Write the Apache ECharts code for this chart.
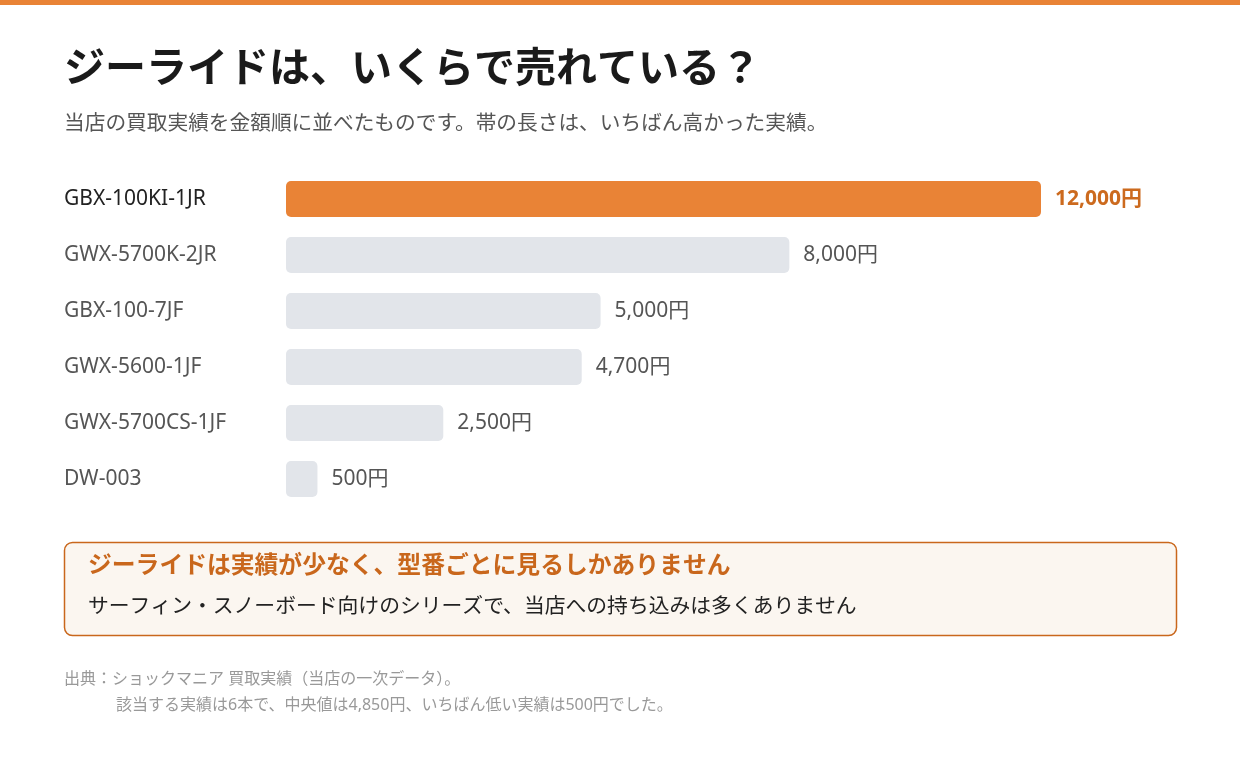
<!DOCTYPE html>
<html><head><meta charset="utf-8">
<script src="https://cdn.jsdelivr.net/npm/echarts@6/dist/echarts.min.js"></script>
<style>html,body{margin:0;padding:0;background:#fff}#c{width:1240px;height:757px}</style>
</head><body><div id="c"></div>
<script>
const categories = ["GBX-100KI-1JR","GWX-5700K-2JR","GBX-100-7JF","GWX-5600-1JF","GWX-5700CS-1JF","DW-003"];
const values = [12000,8000,5000,4700,2500,500];
const F = '"Noto Sans CJK JP",sans-serif';
const FL = '"Noto Sans","Noto Sans CJK JP",sans-serif';
const chart = echarts.init(document.getElementById('c'));
chart.setOption({
  animation:false,
  grid:{left:286,top:171,width:755,height:336},
  xAxis:{type:'value',min:0,max:12000,show:false},
  yAxis:{type:'category',data:categories,inverse:true,axisLine:{show:false},axisTick:{show:false},
    axisLabel:{align:'left',margin:222,fontFamily:FL,fontSize:21,
      formatter:(v,i)=>i===0?'{a|'+v+'}':'{b|'+v+'}',
      rich:{a:{color:'#222',fontSize:21,fontFamily:FL},b:{color:'#555',fontSize:21,fontFamily:FL}}}},
  series:[{type:'bar',barWidth:36,
    data:values.map((v,i)=>({value:v,itemStyle:{color:i===0?'#e98336':'#e2e5ea',borderRadius:5},
      label:{color:i===0?'#cc6a1e':'#555',fontWeight:i===0?'bold':'normal'}})),
    label:{show:true,position:'right',distance:14,fontFamily:FL,fontSize:21,
      formatter:p=>p.value.toLocaleString('en-US')+'円'}}],
  graphic:[
    {type:'rect',shape:{x:0,y:0,width:1240,height:5},style:{fill:'#e98336'}},
    {type:'text',left:64,top:46,style:{text:'ジーライドは、いくらで売れている？',font:'bold 41px '+F,fill:'#1a1a1a'}},
    {type:'text',left:64,top:112,style:{text:'当店の買取実績を金額順に並べたものです。帯の長さは、いちばん高かった実績。',font:'20.7px '+F,fill:'#555'}},
    {type:'rect',shape:{x:64.5,y:542.5,width:1112,height:93,r:8},style:{fill:'#fbf6f0',stroke:'#c9671c',lineWidth:1.5}},
    {type:'text',left:88,top:552,style:{text:'ジーライドは実績が少なく、型番ごとに見るしかありません',font:'bold 23.8px '+F,fill:'#c9671c'}},
    {type:'text',left:88,top:595,style:{text:'サーフィン・スノーボード向けのシリーズで、当店への持ち込みは多くありません',font:'20.8px '+F,fill:'#222'}},
    {type:'text',left:64,top:671,style:{text:'出典：ショックマニア 買取実績（当店の一次データ）。',font:'16px '+FL,fill:'#999'}},
    {type:'text',left:116,top:697,style:{text:'該当する実績は6本で、中央値は4,850円、いちばん低い実績は500円でした。',font:'16px '+FL,fill:'#999'}}
  ]
});
</script></body></html>
